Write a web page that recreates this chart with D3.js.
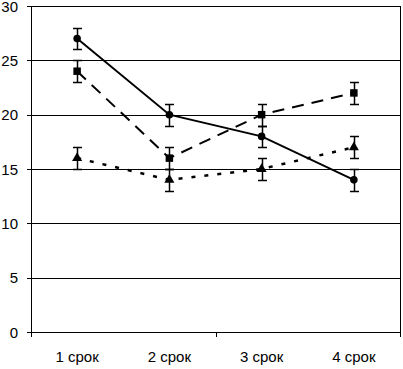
<!DOCTYPE html>
<html>
<head>
<meta charset="utf-8">
<script src="https://cdn.jsdelivr.net/npm/d3@7"></script>
<style>
  html, body { margin: 0; padding: 0; background: #fff; }
  svg { display: block; }
  text { font-family: "Liberation Sans", Arial, sans-serif; fill: #000; }
</style>
</head>
<body>
<div id="vis"></div>
<script>
// chart data
var categories = ["1 срок", "2 срок", "3 срок", "4 срок"];
var solidValues = [27, 20, 18, 14];
var dashedValues = [24, 16, 20, 22];
var dottedValues = [16, 14, 15, 17];
var errorSize = [1, 1, 1, 1];
var yTicks = [0, 5, 10, 15, 20, 25, 30];

var width = 403, height = 369;
var plotLeft = 31, plotRight = 400, plotTop = 6, plotBottom = 332;

var svg = d3.select("#vis").append("svg")
    .attr("width", width)
    .attr("height", height)
    .attr("shape-rendering", "crispEdges");

var x = d3.scaleBand().domain(categories).range([plotLeft, plotRight]);
var y = d3.scaleLinear().domain([0, 30]).range([plotBottom, plotTop]);
var ry = function (v) { return Math.round(y(v)) + 0.5; };

// gridlines
svg.append("g").selectAll("line").data(yTicks).join("line")
    .attr("x1", plotLeft - 4).attr("x2", plotRight)
    .attr("y1", ry).attr("y2", ry)
    .attr("stroke", "#000").attr("stroke-width", 1);

// right border
svg.append("line")
    .attr("x1", plotRight + 0.5).attr("x2", plotRight + 0.5)
    .attr("y1", plotTop).attr("y2", plotBottom)
    .attr("stroke", "#000");

// y axis
svg.append("line")
    .attr("x1", plotLeft + 0.5).attr("x2", plotLeft + 0.5)
    .attr("y1", plotTop).attr("y2", plotBottom + 1)
    .attr("stroke", "#000");
svg.append("g").selectAll("text").data(yTicks).join("text")
    .attr("x", 18)
    .attr("y", function (d) { return y(d) + 5.5; })
    .attr("text-anchor", "end")
    .style("font-size", "15px")
    .text(function (d) { return d; });

// x axis line + ticks every other boundary
var bounds = [0, 2, 4].map(function (i) { return plotLeft + i * x.step(); });
svg.append("g").selectAll("line").data(bounds).join("line")
    .attr("x1", function (d) { return Math.round(d) + 0.5; })
    .attr("x2", function (d) { return Math.round(d) + 0.5; })
    .attr("y1", plotBottom).attr("y2", plotBottom + 5)
    .attr("stroke", "#000");

svg.append("g").selectAll("text").data(categories).join("text")
    .attr("x", function (d) { return x(d) + x.bandwidth() / 2; })
    .attr("y", 362)
    .attr("text-anchor", "middle")
    .style("font-size", "15px")
    .text(function (d) { return d; });

var cx = function (i) { return x(categories[i]) + x.bandwidth() / 2; };

var series = [
    { values: solidValues, dash: null, width: 2, marker: "circle" },
    { values: dashedValues, dash: "12,8", width: 2, marker: "square" },
    { values: dottedValues, dash: "4,9", width: 2.5, marker: "triangle" }
];

var line = d3.line()
    .x(function (d, i) { return cx(i); })
    .y(function (d) { return y(d); });

series.forEach(function (s) {
    var g = svg.append("g").attr("shape-rendering", "auto");
    g.append("path")
        .attr("d", line(s.values))
        .attr("fill", "none")
        .attr("stroke", "#000")
        .attr("stroke-width", s.width)
        .attr("stroke-dasharray", s.dash);

    // error bars
    s.values.forEach(function (v, i) {
        var px = Math.round(cx(i)) + 0.5;
        var e = errorSize[i];
        g.append("line").attr("x1", px).attr("x2", px)
            .attr("y1", ry(v + e)).attr("y2", ry(v - e))
            .attr("stroke", "#000").attr("stroke-width", 1.5);
        [v + e, v - e].forEach(function (t) {
            g.append("line").attr("x1", px - 4.5).attr("x2", px + 4.5)
                .attr("y1", ry(t)).attr("y2", ry(t))
                .attr("stroke", "#000").attr("stroke-width", 1.5);
        });
    });

    var sym = s.marker === "circle" ? d3.symbolCircle
        : s.marker === "square" ? d3.symbolSquare : d3.symbolTriangle;
    var size = s.marker === "circle" ? 45 : s.marker === "square" ? 56 : 44;
    g.selectAll(".m").data(s.values).join("path")
        .attr("transform", function (d, i) { return "translate(" + cx(i) + "," + y(d) + ")"; })
        .attr("d", d3.symbol().type(sym).size(size))
        .attr("fill", "#000");
});
</script>
</body>
</html>
